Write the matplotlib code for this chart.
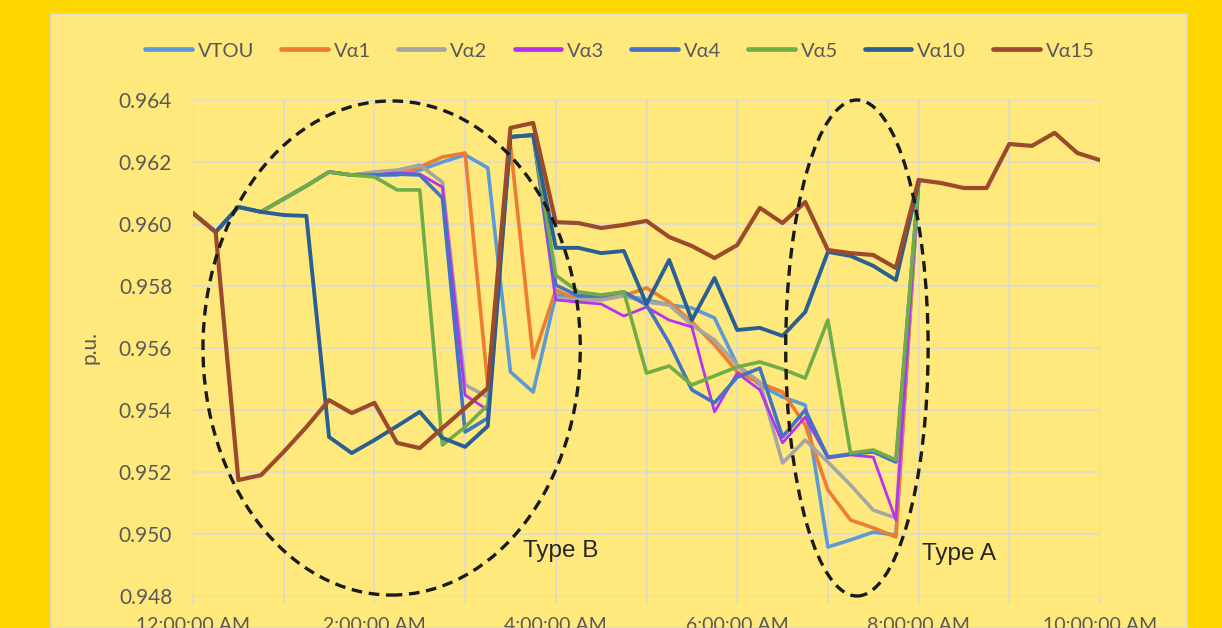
import numpy as np
import pandas as pd
import matplotlib
matplotlib.use("Agg")
import matplotlib.pyplot as plt
from matplotlib.patches import Ellipse, Rectangle

plt.rcParams["font.family"] = ["Lato", "DejaVu Sans"]

# 15-minute time stamps from midnight to 10:00 AM
times = pd.date_range("2020-01-01 00:00", "2020-01-01 10:00", freq="15min")
hours = (times - times[0]) / pd.Timedelta(hours=1)

series_names = ["VTOU", "Vα1", "Vα2", "Vα3", "Vα4", "Vα5", "Vα10", "Vα15"]

vtou = [0.96035, 0.95974, 0.96055, 0.96039, 0.96081, 0.96123, 0.96168, 0.96158, 0.96158,
        0.96158, 0.96174, 0.96200, 0.96223, 0.96181, 0.95523, 0.95458, 0.95771, 0.95768,
        0.95765, 0.95771, 0.95755, 0.95739, 0.95729, 0.95697, 0.95545, 0.95481, 0.95442,
        0.95416, 0.94958, 0.94981, 0.95006, 0.94997, 0.96135]
va1 = [0.96035, 0.95974, 0.96055, 0.96039, 0.96081, 0.96123, 0.96168, 0.96158, 0.96165,
       0.96161, 0.96184, 0.96216, 0.96229, 0.95481, 0.96255, 0.95568, 0.95787, 0.95755,
       0.95765, 0.95768, 0.95794, 0.95748, 0.95684, 0.95610, 0.95523, 0.95487, 0.95458,
       0.95352, 0.95142, 0.95045, 0.95020, 0.94990, 0.96135]
va2 = [0.96035, 0.95974, 0.96055, 0.96039, 0.96081, 0.96123, 0.96168, 0.96158, 0.96168,
       0.96174, 0.96190, 0.96135, 0.95481, 0.95442, 0.96281, 0.96287, 0.95761, 0.95755,
       0.95755, 0.95768, 0.95748, 0.95739, 0.95674, 0.95626, 0.95545, 0.95490, 0.95229,
       0.95303, 0.95232, 0.95158, 0.95077, 0.95052, 0.96135]
va3 = [0.96035, 0.95974, 0.96055, 0.96039, 0.96081, 0.96123, 0.96168, 0.96158, 0.96158,
       0.96165, 0.96161, 0.96119, 0.95448, 0.95400, 0.96281, 0.96287, 0.95755, 0.95748,
       0.95742, 0.95703, 0.95732, 0.95690, 0.95668, 0.95394, 0.95519, 0.95465, 0.95294,
       0.95377, 0.95245, 0.95255, 0.95248, 0.95045, 0.96135]
va4 = [0.96035, 0.95974, 0.96055, 0.96039, 0.96081, 0.96123, 0.96168, 0.96158, 0.96158,
       0.96161, 0.96158, 0.96084, 0.95329, 0.95374, 0.96281, 0.96287, 0.95803, 0.95768,
       0.95768, 0.95781, 0.95739, 0.95616, 0.95465, 0.95423, 0.95506, 0.95535, 0.95313,
       0.95400, 0.95248, 0.95258, 0.95265, 0.95232, 0.96135]
va5 = [0.96035, 0.95974, 0.96055, 0.96039, 0.96081, 0.96123, 0.96168, 0.96158, 0.96152,
       0.96110, 0.96110, 0.95287, 0.95345, 0.95416, 0.96281, 0.96287, 0.95835, 0.95781,
       0.95771, 0.95781, 0.95519, 0.95542, 0.95481, 0.95510, 0.95539, 0.95555, 0.95532,
       0.95503, 0.95690, 0.95261, 0.95271, 0.95239, 0.96135]
va10 = [0.96035, 0.95974, 0.96055, 0.96039, 0.96029, 0.96026, 0.95313, 0.95261, 0.95303,
        0.95348, 0.95394, 0.95310, 0.95281, 0.95348, 0.96281, 0.96287, 0.95923, 0.95923,
        0.95906, 0.95913, 0.95742, 0.95884, 0.95690, 0.95826, 0.95658, 0.95665, 0.95639,
        0.95716, 0.95910, 0.95897, 0.95865, 0.95819, 0.96135]
va15 = [0.96035, 0.95974, 0.95174, 0.95190, 0.95265, 0.95345, 0.95432, 0.95390, 0.95423,
        0.95294, 0.95277, 0.95342, 0.95406, 0.95471, 0.96310, 0.96326, 0.96006, 0.96003,
        0.95987, 0.95997, 0.96010, 0.95958, 0.95929, 0.95890, 0.95932, 0.96052, 0.96003,
        0.96071, 0.95916, 0.95906, 0.95900, 0.95858, 0.96142, 0.96132, 0.96116, 0.96116,
        0.96258, 0.96252, 0.96294, 0.96229, 0.96206]

series_values = [vtou, va1, va2, va3, va4, va5, va10, va15]
colors = ["#5B9BD5", "#ED7D31", "#A5A5A5", "#B732EE", "#4472C4", "#70AD47", "#2A5F93", "#9B4A2C"]
widths = [2.6, 2.6, 2.6, 2.0, 2.6, 2.6, 2.8, 3.0]

y_ticks = [0.948, 0.950, 0.952, 0.954, 0.956, 0.958, 0.960, 0.962, 0.964]
x_tick_labels = ["12:00:00 AM", "", "2:00:00 AM", "", "4:00:00 AM", "", "6:00:00 AM", "",
                 "8:00:00 AM", "", "10:00:00 AM"]

GOLD = "#FFD700"
PANEL = "#FFE97D"
GRID = "#D9D9D9"
TEXT = "#595959"

W, H = 1222, 628
fig = plt.figure(figsize=(W / 100, H / 100), dpi=100, facecolor=GOLD)

# light chart panel sitting on the gold background
fig.patches.append(Rectangle((51 / W, 0), (1187 - 51) / W, (628 - 14) / H,
                             transform=fig.transFigure, facecolor=PANEL,
                             edgecolor=GRID, linewidth=1.2, zorder=-5))

ax = fig.add_axes([193 / W, (628 - 596) / H, (1100 - 193) / W, (596 - 100) / H])
ax.set_zorder(2)
ax.patch.set_alpha(0)

for name, vals, col, lw in zip(series_names, series_values, colors, widths):
    ax.plot(hours[:len(vals)], vals, color=col, lw=lw, label=name,
            solid_joinstyle="round", solid_capstyle="round", zorder=3)

ax.set_xlim(0, 10)
ax.set_ylim(0.948, 0.964)
ax.set_yticks(y_ticks)
ax.set_yticklabels([f"{v:.3f}" for v in y_ticks])
ax.set_xticks(np.arange(0, 11, 1))
ax.set_xticklabels(x_tick_labels)

ax.grid(True, color=GRID, lw=1.1)
ax.set_axisbelow(True)
for sp in ax.spines.values():
    sp.set_visible(False)
ax.tick_params(axis="x", length=6, color=GRID, width=1.1, pad=9, labelsize=14, labelcolor=TEXT)
ax.tick_params(axis="y", length=0, pad=15, labelsize=15, labelcolor=TEXT)

ax.set_ylabel("p.u.", color=TEXT, fontsize=15)
ax.yaxis.set_label_coords(-0.103, 0.5)

# dashed ellipses marking the two deviation types
dash_kw = dict(fill=False, edgecolor="#1A1A1A", lw=2.4, linestyle=(0, (3.2, 2.0)), zorder=5, clip_on=False)
ax.add_patch(Ellipse((2.19, 0.9560), 4.16, 0.01594, **dash_kw))
ax.add_patch(Ellipse((7.32, 0.9560), 1.57, 0.01600, **dash_kw))
ax.text(4.05, 0.94945, "Type B", fontsize=17.5, color="#262626", ha="center", va="center",
        family=["Liberation Sans", "DejaVu Sans"], zorder=6)
ax.text(8.45, 0.94935, "Type A", fontsize=17.5, color="#262626", ha="center", va="center",
        family=["Liberation Sans", "DejaVu Sans"], zorder=6)

leg = fig.legend(*ax.get_legend_handles_labels(), loc="center", ncol=8,
                 bbox_to_anchor=(620 / W, 1 - 51 / H), frameon=False,
                 fontsize=14.5, handlelength=2.3, handletextpad=0.3, columnspacing=1.35)
for t in leg.get_texts():
    t.set_color(TEXT)
for l in leg.get_lines():
    l.set_linewidth(3.4)

fig.savefig("out.png", dpi=100, facecolor=GOLD)
